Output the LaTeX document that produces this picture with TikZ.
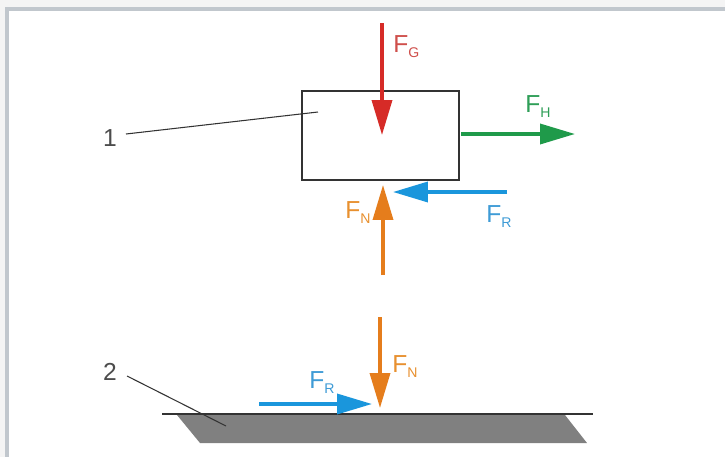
\documentclass[tikz,border=0pt]{standalone}
\usepackage{fontspec}
\setmainfont{Liberation Sans}
\usepackage{xcolor}
\usetikzlibrary{arrows.meta}

\definecolor{fgred}{HTML}{D62B27}
\definecolor{fhgreen}{HTML}{1F9A4A}
\definecolor{frblue}{HTML}{1A96DC}
\definecolor{fnorange}{HTML}{E57D1C}
\definecolor{lblred}{HTML}{CF4F4B}
\definecolor{lblgreen}{HTML}{2E9E57}
\definecolor{lblblue}{HTML}{3E9BD6}
\definecolor{lblorange}{HTML}{E8902F}
\definecolor{framegray}{HTML}{C1C7CD}
\definecolor{outergray}{HTML}{F4F4F4}
\definecolor{groundgray}{HTML}{808080}

\newcommand{\forcelbl}[1]{F\raisebox{-3.4pt}{\fontsize{8}{8}\selectfont #1}}

\begin{document}
\begin{tikzpicture}[
  x=0.02cm, y=-0.02cm,
  force/.style={line width=2pt,-{Triangle[length=0.7cm,width=0.4cm]}},
  forcelabel/.style={anchor=base west,inner sep=0pt,
                     font=\fontsize{14}{14}\selectfont},
  partno/.style={inner sep=0pt,text=black!70,
                 font=\fontsize{14}{14}\selectfont},
  leader/.style={draw=black!80,line width=0.6pt},
  block/.style={rectangle,draw=black!80,line width=0.8pt,fill=white,
                minimum width=3.14cm,minimum height=1.78cm,inner sep=0pt}
]
\useasboundingbox (0,0) rectangle (725,457);
\fill[outergray] (0,0) rectangle (725,457);
\fill[white] (7,9) rectangle (725,457);
\draw[framegray,line width=0.08cm] (7,457) -- (7,9) -- (725,9);

% body
\node[block] (body) at (380.5,135.5) {};

% ground
\fill[groundgray] (177,415) -- (565,415) -- (587,443) -- (200,443) -- cycle;
\draw[black!80,line width=1.2pt] (162,414) coordinate (gleft) -- (593,414) coordinate (gright);

% force end points
\coordinate (gtail)  at (382,23);
\coordinate (gtip)   at (382,135);
\coordinate (htail)  at (461,134);
\coordinate (htip)   at (575,134);
\coordinate (rtail)  at (507,192);
\coordinate (rtip)   at (393,192);
\coordinate (ntail)  at (383,275);
\coordinate (ntip)   at (383,185);
\coordinate (ngtail) at (380,317);
\coordinate (ngtip)  at (380,408);
\coordinate (rgtail) at (259,404);
\coordinate (rgtip)  at (372,404);

\draw[force,fgred]    (gtail)  -- (gtip);
\draw[force,fhgreen]  (htail)  -- (htip);
\draw[force,frblue]   (rtail)  -- (rtip);
\draw[force,fnorange] (ntail)  -- (ntip);
\draw[force,fnorange] (ngtail) -- (ngtip);
\draw[force,frblue]   (rgtail) -- (rgtip);

% force labels
\node[forcelabel,text=lblred]    (lg)  at (393,52)  {\forcelbl{G}};
\node[forcelabel,text=lblgreen]  (lh)  at (525,112) {\forcelbl{H}};
\node[forcelabel,text=lblblue]   (lr)  at (486,222) {\forcelbl{R}};
\node[forcelabel,text=lblorange] (ln)  at (345,218) {\forcelbl{N}};
\node[forcelabel,text=lblorange] (lng) at (392,372) {\forcelbl{N}};
\node[forcelabel,text=lblblue]   (lrg) at (309,388) {\forcelbl{R}};

% part numbers
\node[partno] (one) at (110,138) {1};
\node[partno] (two) at (110,372) {2};
\coordinate (oneend) at (318,112);
\coordinate (twoend) at (226,426);
\draw[leader] (126,134) coordinate (onestart) -- (oneend);
\draw[leader] (127,376) coordinate (twostart) -- (twoend);
\end{tikzpicture}
\end{document}
